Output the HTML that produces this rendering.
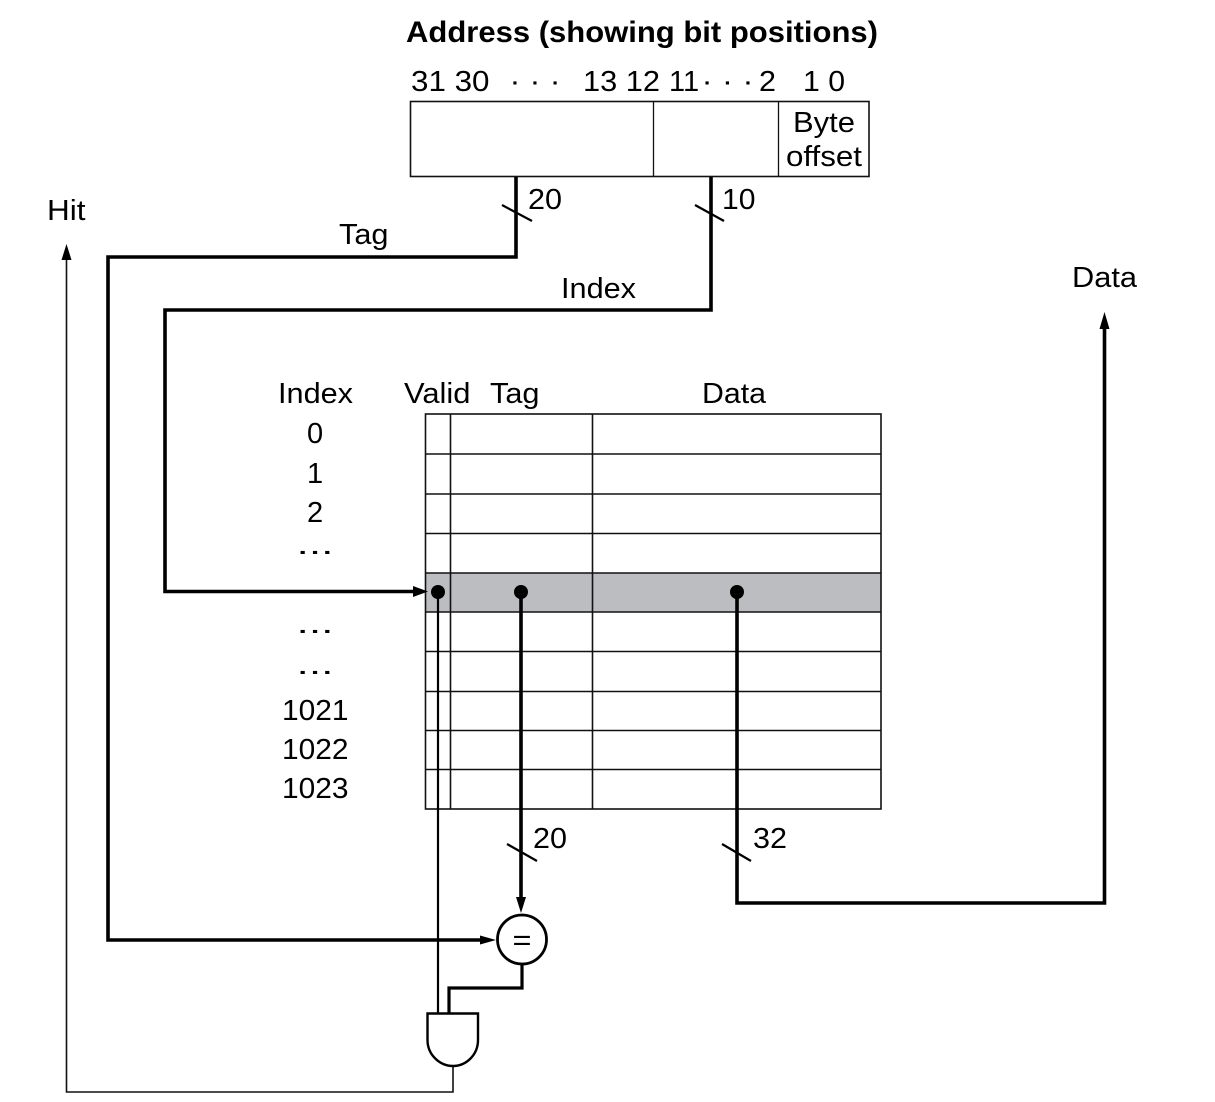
<!DOCTYPE html>
<html><head><meta charset="utf-8"><style>html,body{margin:0;padding:0;background:#fff}svg{display:block}text{font-family:"Liberation Sans",Arial,sans-serif;font-size:29px;fill:#000}</style></head><body>
<svg width="1215" height="1102" viewBox="0 0 1215 1102" xmlns="http://www.w3.org/2000/svg">
<rect x="426" y="573" width="455" height="39" fill="#bcbdc0"/>
<g fill="none" stroke="#111" stroke-width="1.6">
<rect x="410.500" y="101.500" width="458.500" height="75"/>
<path d="M653.500 101.500V176.500M778.500 101.500V176.500" stroke-width="1.300"/>
<rect x="425.500" y="414" width="455.500" height="395"/>
<path d="M450.500 414V809M592.500 414V809M425.500 454H881M425.500 494H881M425.500 533.500H881M425.500 573H881M425.500 612H881M425.500 651.500H881M425.500 691.500H881M425.500 730.500H881M425.500 769.500H881"/>
<path d="M453 1066V1092H66.500V255"/>
</g>
<g fill="none" stroke="#000" stroke-width="2.200">
<path d="M438 592V1014"/>
<path d="M427.500 1013.500H478V1040C478 1055 466 1066 453 1066C440 1066 427.500 1055 427.500 1040Z" stroke-width="2.400"/>
<circle cx="522" cy="939.500" r="24.500" stroke-width="2.800"/>
<path d="M502 205L532 221M695 205L724 221M507 844L537 861M722 844L751 861"/>
</g>
<g fill="none" stroke="#000" stroke-width="3.600">
<path d="M516 177V257H108V940H485"/>
<path d="M711 177V310H165V591.500H418"/>
<path d="M521 592V900"/>
<path d="M737 592V903H1104.500V325"/>
<path d="M522 964V988H449V1014" stroke-width="3.200"/>
</g>
<g fill="#000">
<path d="M61.500 260L66.500 244L71.500 260Z"/><path d="M1099.500 329L1104.500 312L1109.500 329Z"/><path d="M413 586L428 591.500L413 597Z"/><path d="M516 897L521 913L526 897Z"/><path d="M480 935.500L496 940L480 944.500Z"/>
<circle cx="438" cy="592" r="7"/><circle cx="521" cy="592" r="7"/><circle cx="737" cy="592" r="7"/>
</g>
<g>
<text x="406" y="42" textLength="472" lengthAdjust="spacingAndGlyphs" style="font-weight:bold;font-size:30px">Address (showing bit positions)</text>
<text x="411" y="91" textLength="78.500" lengthAdjust="spacingAndGlyphs">31 30</text><text x="509.500" y="91" textLength="51" lengthAdjust="spacingAndGlyphs">· · ·</text><text x="583" y="91" textLength="77" lengthAdjust="spacingAndGlyphs">13 12</text><text x="669" y="91">11</text><text x="701.500" y="91" textLength="52" lengthAdjust="spacingAndGlyphs">· · ·</text><text x="759" y="91" textLength="17" lengthAdjust="spacingAndGlyphs">2</text><text x="803" y="91" textLength="42" lengthAdjust="spacingAndGlyphs">1 0</text>
<text x="793" y="132" textLength="62" lengthAdjust="spacingAndGlyphs">Byte</text><text x="786" y="166" textLength="76" lengthAdjust="spacingAndGlyphs">offset</text>
<text x="47" y="220" textLength="38.500" lengthAdjust="spacingAndGlyphs">Hit</text><text x="339" y="244" textLength="49.500" lengthAdjust="spacingAndGlyphs">Tag</text><text x="561" y="298" textLength="75" lengthAdjust="spacingAndGlyphs">Index</text><text x="1072" y="287" textLength="65" lengthAdjust="spacingAndGlyphs">Data</text>
<text x="528" y="209" textLength="34" lengthAdjust="spacingAndGlyphs">20</text><text x="722" y="209" textLength="33.500" lengthAdjust="spacingAndGlyphs">10</text><text x="533" y="848" textLength="34" lengthAdjust="spacingAndGlyphs">20</text><text x="753" y="848" textLength="34" lengthAdjust="spacingAndGlyphs">32</text>
<text x="278" y="403" textLength="75" lengthAdjust="spacingAndGlyphs">Index</text><text x="404" y="403" textLength="66.500" lengthAdjust="spacingAndGlyphs">Valid</text><text x="490" y="403" textLength="49.500" lengthAdjust="spacingAndGlyphs">Tag</text><text x="702" y="403" textLength="64" lengthAdjust="spacingAndGlyphs">Data</text>
<text x="307" y="443">0</text><text x="307" y="483">1</text><text x="307" y="522">2</text>
<text x="296.500" y="554" textLength="37" lengthAdjust="spacingAndGlyphs">...</text><text x="296.500" y="633" textLength="37" lengthAdjust="spacingAndGlyphs">...</text><text x="296.500" y="674" textLength="37" lengthAdjust="spacingAndGlyphs">...</text>
<text x="282" y="720" textLength="66.500" lengthAdjust="spacingAndGlyphs">1021</text><text x="282" y="759" textLength="66.500" lengthAdjust="spacingAndGlyphs">1022</text><text x="282" y="798" textLength="66.500" lengthAdjust="spacingAndGlyphs">1023</text>
<text x="512.500" y="950" textLength="19" lengthAdjust="spacingAndGlyphs">=</text>
</g>
</svg>
</body></html>
